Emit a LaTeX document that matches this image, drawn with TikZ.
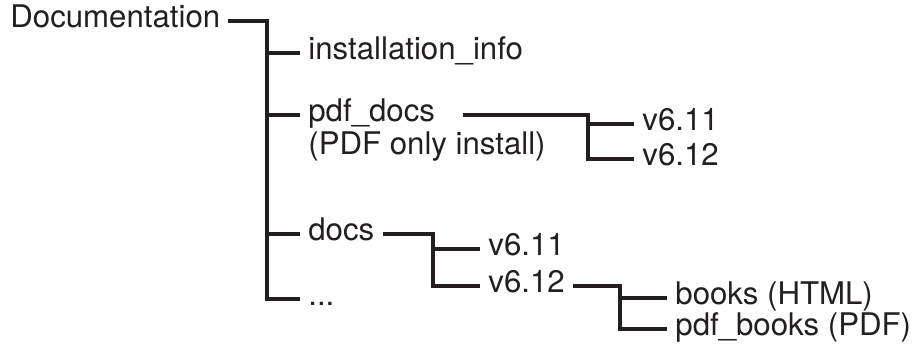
\documentclass[tikz,border=0pt]{standalone}
\usepackage{fontspec}
\setmainfont{TeX Gyre Heros}
\usetikzlibrary{positioning}
\definecolor{ink}{RGB}{35,31,32}

\begin{document}
\begin{tikzpicture}[item/.style = {anchor=west, inner xsep=4pt, inner ysep=0pt, text height=.75em, text depth=.15em, font=\fontsize{15.6}{18}\selectfont, text=ink}, tree/.style = {draw=ink, line width=1.6pt}]
		\useasboundingbox (0,0) rectangle (461.5pt,-177pt);
		\node[item] (doc) at (1pt,-10.5pt) {Documentation};
		\node[item, below right=16pt and 149pt of doc.west, anchor=west] (inst) {installation\_info};
		\node[item, below=31pt of inst.west, anchor=west] (pdf) {pdf\_docs};
		\node[item, below=16.8pt of pdf.west, anchor=west] (pdfnote) {(PDF only install)};
		\node[item, below=59.5pt of pdf.west, anchor=west] (docs) {docs};
		\node[item, below=32.5pt of docs.west, anchor=west] (more) {...};
		\node[item, below right=4.5pt and 167pt of pdf.west, anchor=west] (pv11) {v6.11};
		\node[item, below=17.5pt of pv11.west, anchor=west] (pv12) {v6.12};
		\node[item, below right=7.5pt and 90pt of docs.west, anchor=west] (dv11) {v6.11};
		\node[item, below=18.5pt of dv11.west, anchor=west] (dv12) {v6.12};
		\node[item, below right=6pt and 93.5pt of dv12.west, anchor=west] (books) {books (HTML)};
		\node[item, below=15.5pt of books.west, anchor=west] (pbooks) {pdf\_books (PDF)};
		\draw[tree] ([xshift=-.5pt]doc.east) -| ([xshift=-16.5pt]more.west) -- (more);
		\foreach \n in {inst,pdf,docs}
			\draw[tree] ([xshift=-16.5pt]\n.west) -- (\n);
		\draw[tree] ([xshift=10pt]pdf.east) -| ([xshift=-23pt]pv12.west) -- (pv12);
		\draw[tree] ([xshift=-23pt]pv11.west) -- (pv11);
		\draw[tree] (docs) -| ([xshift=-23.5pt]dv12.west) -- (dv12);
		\draw[tree] ([xshift=-23.5pt]dv11.west) -- (dv11);
		\draw[tree] (dv12) -| ([xshift=-23.5pt]pbooks.west) -- (pbooks);
		\draw[tree] ([xshift=-23.5pt]books.west) -- (books);
	\end{tikzpicture}
\end{document}
